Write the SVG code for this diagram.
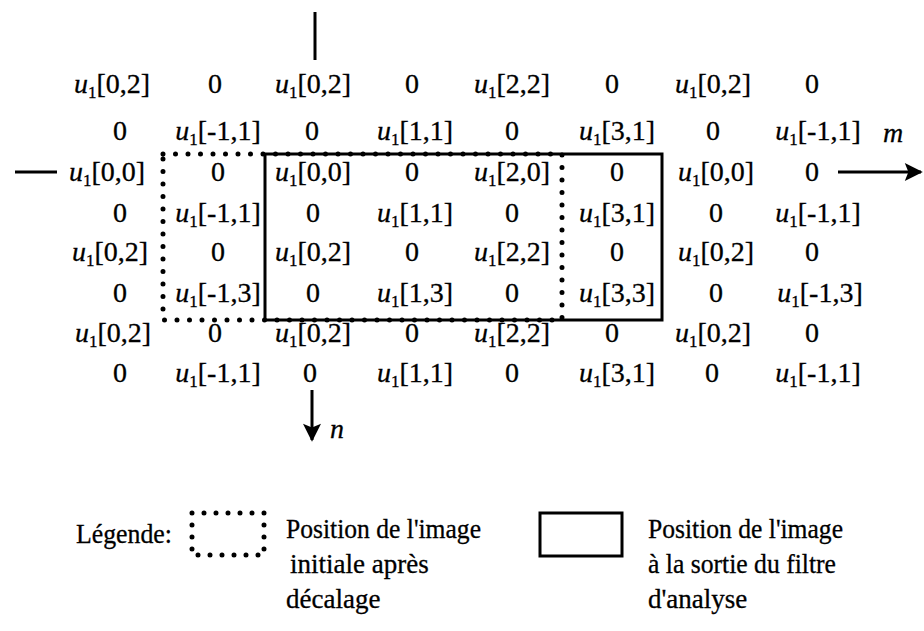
<svg xmlns="http://www.w3.org/2000/svg" width="924" height="631" viewBox="0 0 924 631">
<style>
text{font-family:"Liberation Serif","Times New Roman",serif;font-size:28px;fill:#000;stroke:#000;stroke-width:0.3}
.c{text-anchor:middle}
.i{font-style:italic}
.s{font-size:17px}
.lg{font-size:27px}
.solid{fill:none;stroke:#000;stroke-width:3}
.dot{fill:none;stroke:#000;stroke-width:5;stroke-linecap:round;stroke-dasharray:0 12.5}
.ax{stroke:#000;stroke-width:3;fill:none}
</style>
<defs>
<marker id="ah" viewBox="0 0 10 10" refX="9" refY="5" markerWidth="7" markerHeight="6" orient="auto" markerUnits="strokeWidth">
<path d="M0,0 L10,5 L0,10 L2,5 z" fill="#000"/>
</marker>
</defs>
<g id="connectors">
<line class="ax" x1="315" y1="12" x2="315" y2="60"/>
<line class="ax" x1="15" y1="172" x2="57" y2="172"/>
<line class="ax" x1="838" y1="172" x2="921" y2="172" marker-end="url(#ah)"/>
<line class="ax" x1="312" y1="390" x2="312" y2="440" marker-end="url(#ah)"/>
</g>
<g id="boxes">
<rect id="solid-box" class="solid" x="265" y="154" width="397" height="166"/>
<rect id="dotted-box" class="dot" x="163" y="154" width="399" height="166"/>
</g>
<g id="grid">
<g id="row0">
<text class="c" x="112" y="93"><tspan class="i">u</tspan><tspan class="s" dy="5">1</tspan><tspan dy="-5">[0,2]</tspan></text>
<text class="c" x="215" y="93">0</text>
<text class="c" x="313" y="93"><tspan class="i">u</tspan><tspan class="s" dy="5">1</tspan><tspan dy="-5">[0,2]</tspan></text>
<text class="c" x="412" y="93">0</text>
<text class="c" x="512" y="93"><tspan class="i">u</tspan><tspan class="s" dy="5">1</tspan><tspan dy="-5">[2,2]</tspan></text>
<text class="c" x="612" y="93">0</text>
<text class="c" x="713" y="93"><tspan class="i">u</tspan><tspan class="s" dy="5">1</tspan><tspan dy="-5">[0,2]</tspan></text>
<text class="c" x="812" y="93">0</text>
</g>
<g id="row1">
<text class="c" x="120" y="140">0</text>
<text class="c" x="218" y="140"><tspan class="i">u</tspan><tspan class="s" dy="5">1</tspan><tspan dy="-5">[-1,1]</tspan></text>
<text class="c" x="312" y="140">0</text>
<text class="c" x="415" y="140"><tspan class="i">u</tspan><tspan class="s" dy="5">1</tspan><tspan dy="-5">[1,1]</tspan></text>
<text class="c" x="512" y="140">0</text>
<text class="c" x="617" y="140"><tspan class="i">u</tspan><tspan class="s" dy="5">1</tspan><tspan dy="-5">[3,1]</tspan></text>
<text class="c" x="713" y="140">0</text>
<text class="c" x="818" y="140"><tspan class="i">u</tspan><tspan class="s" dy="5">1</tspan><tspan dy="-5">[-1,1]</tspan></text>
<text class="i" x="883" y="142">m</text>
</g>
<g id="row2">
<text class="c" x="107" y="181"><tspan class="i">u</tspan><tspan class="s" dy="5">1</tspan><tspan dy="-5">[0,0]</tspan></text>
<text class="c" x="218" y="181">0</text>
<text class="c" x="313" y="181"><tspan class="i">u</tspan><tspan class="s" dy="5">1</tspan><tspan dy="-5">[0,0]</tspan></text>
<text class="c" x="412" y="181">0</text>
<text class="c" x="512" y="181"><tspan class="i">u</tspan><tspan class="s" dy="5">1</tspan><tspan dy="-5">[2,0]</tspan></text>
<text class="c" x="617" y="181">0</text>
<text class="c" x="716" y="181"><tspan class="i">u</tspan><tspan class="s" dy="5">1</tspan><tspan dy="-5">[0,0]</tspan></text>
<text class="c" x="812" y="181">0</text>
</g>
<g id="row3">
<text class="c" x="120" y="222">0</text>
<text class="c" x="218" y="222"><tspan class="i">u</tspan><tspan class="s" dy="5">1</tspan><tspan dy="-5">[-1,1]</tspan></text>
<text class="c" x="313" y="222">0</text>
<text class="c" x="415" y="222"><tspan class="i">u</tspan><tspan class="s" dy="5">1</tspan><tspan dy="-5">[1,1]</tspan></text>
<text class="c" x="512" y="222">0</text>
<text class="c" x="617" y="222"><tspan class="i">u</tspan><tspan class="s" dy="5">1</tspan><tspan dy="-5">[3,1]</tspan></text>
<text class="c" x="716" y="222">0</text>
<text class="c" x="818" y="222"><tspan class="i">u</tspan><tspan class="s" dy="5">1</tspan><tspan dy="-5">[-1,1]</tspan></text>
</g>
<g id="row4">
<text class="c" x="110" y="261"><tspan class="i">u</tspan><tspan class="s" dy="5">1</tspan><tspan dy="-5">[0,2]</tspan></text>
<text class="c" x="218" y="261">0</text>
<text class="c" x="313" y="261"><tspan class="i">u</tspan><tspan class="s" dy="5">1</tspan><tspan dy="-5">[0,2]</tspan></text>
<text class="c" x="412" y="261">0</text>
<text class="c" x="512" y="261"><tspan class="i">u</tspan><tspan class="s" dy="5">1</tspan><tspan dy="-5">[2,2]</tspan></text>
<text class="c" x="617" y="261">0</text>
<text class="c" x="716" y="261"><tspan class="i">u</tspan><tspan class="s" dy="5">1</tspan><tspan dy="-5">[0,2]</tspan></text>
<text class="c" x="812" y="261">0</text>
</g>
<g id="row5">
<text class="c" x="120" y="302">0</text>
<text class="c" x="218" y="302"><tspan class="i">u</tspan><tspan class="s" dy="5">1</tspan><tspan dy="-5">[-1,3]</tspan></text>
<text class="c" x="313" y="302">0</text>
<text class="c" x="415" y="302"><tspan class="i">u</tspan><tspan class="s" dy="5">1</tspan><tspan dy="-5">[1,3]</tspan></text>
<text class="c" x="512" y="302">0</text>
<text class="c" x="617" y="302"><tspan class="i">u</tspan><tspan class="s" dy="5">1</tspan><tspan dy="-5">[3,3]</tspan></text>
<text class="c" x="716" y="302">0</text>
<text class="c" x="820" y="302"><tspan class="i">u</tspan><tspan class="s" dy="5">1</tspan><tspan dy="-5">[-1,3]</tspan></text>
</g>
<g id="row6">
<text class="c" x="113" y="342"><tspan class="i">u</tspan><tspan class="s" dy="5">1</tspan><tspan dy="-5">[0,2]</tspan></text>
<text class="c" x="215" y="342">0</text>
<text class="c" x="313" y="342"><tspan class="i">u</tspan><tspan class="s" dy="5">1</tspan><tspan dy="-5">[0,2]</tspan></text>
<text class="c" x="412" y="342">0</text>
<text class="c" x="512" y="342"><tspan class="i">u</tspan><tspan class="s" dy="5">1</tspan><tspan dy="-5">[2,2]</tspan></text>
<text class="c" x="612" y="342">0</text>
<text class="c" x="713" y="342"><tspan class="i">u</tspan><tspan class="s" dy="5">1</tspan><tspan dy="-5">[0,2]</tspan></text>
<text class="c" x="812" y="342">0</text>
</g>
<g id="row7">
<text class="c" x="120" y="382">0</text>
<text class="c" x="218" y="382"><tspan class="i">u</tspan><tspan class="s" dy="5">1</tspan><tspan dy="-5">[-1,1]</tspan></text>
<text class="c" x="310" y="382">0</text>
<text class="c" x="415" y="382"><tspan class="i">u</tspan><tspan class="s" dy="5">1</tspan><tspan dy="-5">[1,1]</tspan></text>
<text class="c" x="512" y="382">0</text>
<text class="c" x="617" y="382"><tspan class="i">u</tspan><tspan class="s" dy="5">1</tspan><tspan dy="-5">[3,1]</tspan></text>
<text class="c" x="712" y="382">0</text>
<text class="c" x="818" y="382"><tspan class="i">u</tspan><tspan class="s" dy="5">1</tspan><tspan dy="-5">[-1,1]</tspan></text>
</g>
<text id="label-n" class="i" x="330" y="438">n</text>
</g>
<g id="legend">
<text class="lg" x="76" y="543" textLength="96" lengthAdjust="spacingAndGlyphs">Légende:</text>
<rect id="legend-dotted" class="dot" x="192" y="513" width="72" height="42" style="stroke-dasharray:0 12"/>
<text class="lg" x="286" y="538" textLength="195" lengthAdjust="spacingAndGlyphs">Position de l'image</text>
<text class="lg" x="290" y="573">initiale après</text>
<text class="lg" x="286" y="608">décalage</text>
<rect id="legend-solid" class="solid" x="540" y="513" width="82" height="43"/>
<text class="lg" x="648" y="538" textLength="195" lengthAdjust="spacingAndGlyphs">Position de l'image</text>
<text class="lg" x="648" y="573" textLength="188" lengthAdjust="spacingAndGlyphs">à la sortie du filtre</text>
<text class="lg" x="648" y="608">d'analyse</text>
</g>
</svg>
